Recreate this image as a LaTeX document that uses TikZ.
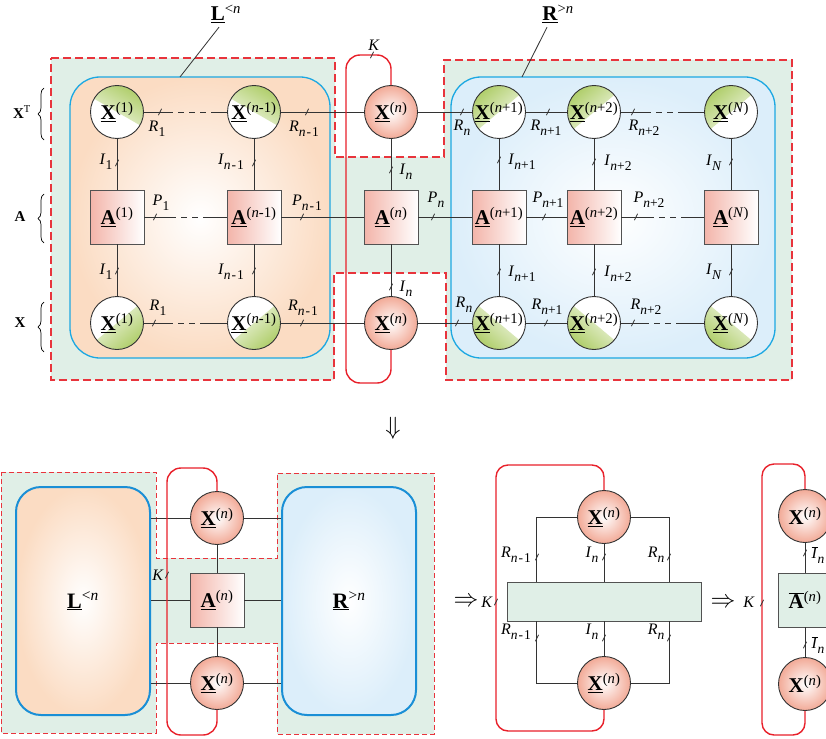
\documentclass[tikz,border=0pt]{standalone}
\usepackage{fontspec}
\setmainfont{Liberation Serif}
\usetikzlibrary{calc,decorations.pathreplacing}
\definecolor{bgG}{HTML}{E0EFE7}
\definecolor{redD}{HTML}{E8343C}
\definecolor{redL}{HTML}{E8202A}
\definecolor{blueL}{HTML}{1CA8E2}
\definecolor{blueB}{HTML}{1A8FD6}
\definecolor{peach}{HTML}{FBDCC3}
\definecolor{skyb}{HTML}{DCEEFA}
\definecolor{pinkC}{HTML}{F2AA97}
\definecolor{sqpink}{HTML}{F3B4A9}
\definecolor{wgreen}{HTML}{A3C653}
\definecolor{lineC}{HTML}{333333}
\newcommand\ubf[1]{\underline{\textbf{#1}}}
\newcommand\itn{\textit{n}}
\newcommand\sbs[1]{\raisebox{-0.3em}{\fontsize{13.5}{13.5}\selectfont #1}}
\newcommand\mns{\kern1pt-\kern1pt}
\newcommand\Xn[1]{\ubf{X}\textsuperscript{(#1)}}
\newcommand\An[1]{\ubf{A}\textsuperscript{(#1)}}
\newcommand\Rl[1]{\textit{R}\sbs{#1}}
\newcommand\Il[1]{\textit{I}\sbs{#1}}
\newcommand\Pl[1]{\textit{P}\sbs{#1}}
\newcommand\tk[1]{\draw[lineC, line width=0.8pt] (#1) ++(-1.6,-3.2) -- ++(3.2,6.4);}
\tikzset{
  edge/.style={draw=lineC, line width=0.9pt},
  dedge/.style={edge, dash pattern=on 6pt off 5pt},
  circ/.style={circle, draw=lineC, line width=0.9pt, minimum size=53pt, inner sep=0pt, font=\fontsize{21}{21}\selectfont},
  pinkc/.style={circ, inner color=white, outer color=pinkC},
  gc/.style={circ, fill=white, path picture={
     \shade[top color=wgreen, bottom color=white, shading angle=#1]
       ($(path picture bounding box.center)+({#1}:30pt)$) arc[start angle={#1}, end angle={#1+180}, radius=30pt] -- cycle;}},
  sq/.style={rectangle, draw=lineC!85, line width=0.9pt, minimum size=54pt, inner sep=0pt, left color=sqpink, right color=white, font=\fontsize{21}{21}\selectfont},
  lab/.style={inner sep=0pt, font=\fontsize{16}{16}\selectfont},
  reddash/.style={draw=redD, dash pattern=on 8pt off 4pt, line width=1.4pt, fill=bgG},
  reddashs/.style={draw=redD, dash pattern=on 5pt off 3pt, line width=0.9pt, fill=bgG},
  redloop/.style={draw=redL, line width=1.4pt, rounded corners=14pt},
  bigbox/.style={draw=blueB, line width=2pt, rounded corners=25pt, minimum width=134pt, minimum height=228pt, inner sep=0pt, font=\fontsize{22}{22}\selectfont},
  arr/.style={inner sep=0pt, font=\fontsize{26}{26}\selectfont},
}
\begin{document}
\begin{tikzpicture}[x=1pt,y=1pt]
\useasboundingbox (0,0) rectangle (826,-738);
\clip (0,0) rectangle (826,-738);
\fill[white] (0,0) rectangle (826,-738);

% ===== top part =====
\draw[reddash] (51,-58) -- (335,-58) -- (335,-157) -- (444,-157) -- (444,-60) -- (792,-60) -- (792,-380) -- (446,-380) -- (446,-273) -- (334,-273) -- (334,-380) -- (51,-380) -- cycle;
\draw[draw=blueL, line width=1.3pt, rounded corners=30pt, inner color=white, outer color=peach] (70,-77) rectangle (330,-358);
\draw[draw=blueL, line width=1.3pt, rounded corners=30pt, inner color=white, outer color=skyb] (451,-77) rectangle (775,-358);

% nodes
\node[gc=-30] (X1T) at (117,-112) {\Xn{1}};
\node[gc=-30] (X2T) at (254,-112) {\Xn{\itn-1}};
\node[pinkc] (X3T) at (391,-112) {\Xn{\itn}};
\node[gc=40] (X4T) at (499,-112) {\Xn{\itn+1}};
\node[gc=40] (X5T) at (594,-112) {\Xn{\itn+2}};
\node[gc=40] (X6T) at (731,-112) {\Xn{\textit{N}}};
\node[sq] (A1) at (117,-217) {\An{1}};
\node[sq] (A2) at (254,-217) {\An{\itn-1}};
\node[sq] (A3) at (391,-217) {\An{\itn}};
\node[sq] (A4) at (499,-217) {\An{\itn+1}};
\node[sq] (A5) at (594,-217) {\An{\itn+2}};
\node[sq] (A6) at (731,-217) {\An{\textit{N}}};
\node[gc=-140] (X1B) at (117,-323) {\Xn{1}};
\node[gc=-140] (X2B) at (254,-323) {\Xn{\itn-1}};
\node[pinkc] (X3B) at (391,-323) {\Xn{\itn}};
\node[gc=140] (X4B) at (499,-323) {\Xn{\itn+1}};
\node[gc=140] (X5B) at (594,-323) {\Xn{\itn+2}};
\node[gc=140] (X6B) at (731,-323) {\Xn{\textit{N}}};

% horizontal edges
\coordinate (t1a) at (167,-112); \coordinate (t1b) at (213,-112);
\draw[edge] (X1T) -- (t1a); \draw[dedge] (t1a) -- (t1b); \draw[edge] (t1b) -- (X2T);
\draw[edge] (X2T) -- (X3T);
\draw[edge] (X3T) -- (X4T);
\draw[edge] (X4T) -- (X5T);
\coordinate (t5a) at (645,-112); \coordinate (t5b) at (681,-112);
\draw[edge] (X5T) -- (t5a); \draw[dedge] (t5a) -- (t5b); \draw[edge] (t5b) -- (X6T);

\coordinate (m1a) at (170,-217); \coordinate (m1b) at (204,-217);
\draw[edge] (A1) -- (m1a); \draw[dedge] (m1a) -- (m1b); \draw[edge] (m1b) -- (A2);
\draw[edge] (A2) -- (A3);
\draw[edge] (A3) -- (A4);
\draw[edge] (A4) -- (A5);
\coordinate (m5a) at (648,-217); \coordinate (m5b) at (681,-217);
\draw[edge] (A5) -- (m5a); \draw[dedge] (m5a) -- (m5b); \draw[edge] (m5b) -- (A6);

\coordinate (b1a) at (167,-323); \coordinate (b1b) at (205,-323);
\draw[edge] (X1B) -- (b1a); \draw[dedge] (b1a) -- (b1b); \draw[edge] (b1b) -- (X2B);
\draw[edge] (X2B) -- (X3B);
\draw[edge] (X3B) -- (X4B);
\draw[edge] (X4B) -- (X5B);
\coordinate (b5a) at (643,-323); \coordinate (b5b) at (681,-323);
\draw[edge] (X5B) -- (b5a); \draw[dedge] (b5a) -- (b5b); \draw[edge] (b5b) -- (X6B);

% vertical edges
\foreach \i in {1,...,6}{
  \draw[edge] (X\i T) -- (A\i);
  \draw[edge] (A\i) -- (X\i B);
}

% red loop
\draw[redloop] (X3T.north) -- (391,-55) -- (346,-55) -- (346,-383) -- (391,-383) -- (X3B.south);

% ticks
\tk{160,-112} \tk{307,-112} \tk{462,-112} \tk{548,-112} \tk{633,-112}
\tk{117,-163} \tk{254,-163} \tk{391,-170} \tk{499,-160} \tk{594,-162} \tk{731,-162}
\tk{155,-217} \tk{302,-217} \tk{433,-217} \tk{544,-217} \tk{636,-217}
\tk{117,-271} \tk{254,-271} \tk{391,-287} \tk{499,-272} \tk{594,-272} \tk{731,-272}
\tk{154,-323} \tk{302,-323} \tk{457,-323} \tk{546,-323} \tk{633,-323}
\tk{372,-55}

% labels
\node[lab] (lK) at (374,-45) {\textit{K}};
\node[lab] (r1) at (157,-129) {\Rl{1}};
\node[lab] (r2) at (304,-129) {\Rl{\itn\mns1}};
\node[lab] (r3) at (462,-128) {\Rl{\itn}};
\node[lab] (r4) at (546,-128) {\Rl{\itn+1}};
\node[lab] (r5) at (644,-128) {\Rl{\itn+2}};
\node[lab] (i1) at (106,-162) {\Il{1}};
\node[lab] (i2) at (231,-162) {\Il{\itn\mns1}};
\node[lab] (i3) at (406,-172) {\Il{\itn}};
\node[lab] (i4) at (522,-162) {\Il{\itn+1}};
\node[lab] (i5) at (618,-163) {\Il{\itn+2}};
\node[lab] (i6) at (714,-163) {\Il{\textit{N}}};
\node[lab] (p1) at (161,-203) {\Pl{1}};
\node[lab] (p2) at (307,-203) {\Pl{\itn\mns1}};
\node[lab] (p3) at (436,-200) {\Pl{\itn}};
\node[lab] (p4) at (548,-200) {\Pl{\itn+1}};
\node[lab] (p5) at (649,-200) {\Pl{\itn+2}};
\node[lab] (j1) at (106,-272) {\Il{1}};
\node[lab] (j2) at (231,-272) {\Il{\itn\mns1}};
\node[lab] (j3) at (406,-289) {\Il{\itn}};
\node[lab] (j4) at (522,-274) {\Il{\itn+1}};
\node[lab] (j5) at (618,-274) {\Il{\itn+2}};
\node[lab] (j6) at (714,-272) {\Il{\textit{N}}};
\node[lab] (s1) at (158,-308) {\Rl{1}};
\node[lab] (s2) at (303,-308) {\Rl{\itn\mns1}};
\node[lab] (s3) at (464,-305) {\Rl{\itn}};
\node[lab] (s4) at (547,-307) {\Rl{\itn+1}};
\node[lab] (s5) at (646,-307) {\Rl{\itn+2}};

% left braces
\node[inner sep=0pt, font=\fontsize{15}{15}\selectfont\bfseries] (lXT) at (22,-112) {X\textsuperscript{\mdseries T}};
\node[inner sep=0pt, font=\fontsize{15}{15}\selectfont\bfseries] (lA) at (20,-217) {A};
\node[inner sep=0pt, font=\fontsize{15}{15}\selectfont\bfseries] (lX) at (20,-323) {X};
\draw[decorate, decoration={brace, amplitude=6pt}, line width=0.7pt] (44,-140) -- (44,-88);
\draw[decorate, decoration={brace, amplitude=6pt}, line width=0.7pt] (44,-243) -- (44,-194);
\draw[decorate, decoration={brace, amplitude=6pt}, line width=0.7pt] (44,-352) -- (44,-302);

% top titles
\node[inner sep=0pt, font=\fontsize{21}{21}\selectfont] (Ltop) at (226,-14) {\ubf{L}\textsuperscript{<\itn}};
\node[inner sep=0pt, font=\fontsize{21}{21}\selectfont] (Rtop) at (558,-14) {\ubf{R}\textsuperscript{>\itn}};
\coordinate (Lpt) at (180,-77); \coordinate (Rpt) at (522,-77);
\draw[edge, line width=0.8pt] ($(Ltop.south)+(-7,-4)$) -- (Lpt);
\draw[edge, line width=0.8pt] ($(Rtop.south)+(-11,-4)$) -- (Rpt);

\node[arr] (darr) at (393,-428) {$\Downarrow$};

% ===== bottom left =====
\draw[reddashs] (1,-472) -- (156,-472) -- (156,-558) -- (277,-558) -- (277,-473) -- (434,-473) -- (434,-734) -- (277,-734) -- (277,-643) -- (156,-643) -- (156,-733) -- (1,-733) -- cycle;
\node[bigbox, inner color=white, outer color=peach] (Lb) at (83,-601) {\ubf{L}\textsuperscript{<\itn}};
\node[bigbox, inner color=white, outer color=skyb] (Rb) at (349,-601) {\ubf{R}\textsuperscript{>\itn}};
\node[pinkc] (XbT) at (217,-518) {\Xn{\itn}};
\node[sq] (Ab) at (217,-600) {\An{\itn}};
\node[pinkc] (XbB) at (217,-683) {\Xn{\itn}};
\draw[edge] (Lb.east |- XbT) -- (XbT); \draw[edge] (XbT) -- (Rb.west |- XbT);
\draw[edge] (Lb.east |- Ab) -- (Ab); \draw[edge] (Ab) -- (Rb.west |- Ab);
\draw[edge] (Lb.east |- XbB) -- (XbB); \draw[edge] (XbB) -- (Rb.west |- XbB);
\draw[edge] (XbT) -- (Ab); \draw[edge] (Ab) -- (XbB);
\draw[redloop] (XbT.north) -- (217,-468) -- (167,-468) -- (167,-735) -- (217,-735) -- (XbB.south);
\tk{167,-575}
\node[lab] (kb) at (158,-575) {\textit{K}};

% ===== bottom middle =====
\node[arr] (ar1) at (466,-602) {$\Rightarrow$};
\node[lab] (km) at (487,-602) {\textit{K}};
\node[draw=lineC!85, line width=0.9pt, fill=bgG, minimum width=194pt, minimum height=39pt, inner sep=0pt] (Gm) at (604,-601.5) {};
\node[pinkc] (XmT) at (604,-517) {\Xn{\itn}};
\node[pinkc] (XmB) at (604,-683) {\Xn{\itn}};
\draw[edge] (XmT.west) -| ($(Gm.north west)+(30,0)$);
\draw[edge] (XmT.east) -| ($(Gm.north east)+(-32,0)$);
\draw[edge] (XmT) -- (XmT |- Gm.north);
\draw[edge] (XmB.west) -| ($(Gm.south west)+(30,0)$);
\draw[edge] (XmB.east) -| ($(Gm.south east)+(-32,0)$);
\draw[edge] (XmB) -- (XmB |- Gm.south);
\draw[redloop, rounded corners=12pt] (XmT.north) -- (604,-465) -- (496,-465) -- (496,-731) -- (604,-731) -- (XmB.south);
\tk{496,-602}
\tk{537,-557} \tk{604,-557} \tk{669,-557}
\tk{537,-638} \tk{604,-638} \tk{669,-638}
\node[lab] (u1) at (516,-555) {\Rl{\itn\mns1}};
\node[lab] (u2) at (592,-555) {\Il{\itn}};
\node[lab] (u3) at (656,-555) {\Rl{\itn}};
\node[lab] (v1) at (516,-632) {\Rl{\itn\mns1}};
\node[lab] (v2) at (592,-632) {\Il{\itn}};
\node[lab] (v3) at (656,-632) {\Rl{\itn}};

% ===== bottom right =====
\node[arr] (ar2) at (723,-603) {$\Rightarrow$};
\node[lab] (kr) at (749,-602) {\textit{K}};
\node[pinkc] (XrT) at (805,-516) {\textbf{X}\textsuperscript{(\itn)}};
\node[sq, fill=bgG, left color=bgG, right color=bgG] (Ar) at (805,-600) {$\overline{\mbox{\textbf{A}}}$\textsuperscript{(\itn)}};
\node[pinkc] (XrB) at (805,-684) {\textbf{X}\textsuperscript{(\itn)}};
\draw[edge] (XrT) -- (Ar); \draw[edge] (Ar) -- (XrB);
\draw[redloop, rounded corners=12pt] (XrT.north) -- (805,-464) -- (762,-464) -- (762,-735) -- (805,-735) -- (XrB.south);
\tk{762,-603} \tk{805,-553} \tk{805,-645}
\node[lab] (w1) at (818,-555) {$\overline{\mbox{\textit{I}}}$\sbs{\itn}};
\node[lab] (w2) at (818,-645) {$\overline{\mbox{\textit{I}}}$\sbs{\itn}};
\end{tikzpicture}
\end{document}
